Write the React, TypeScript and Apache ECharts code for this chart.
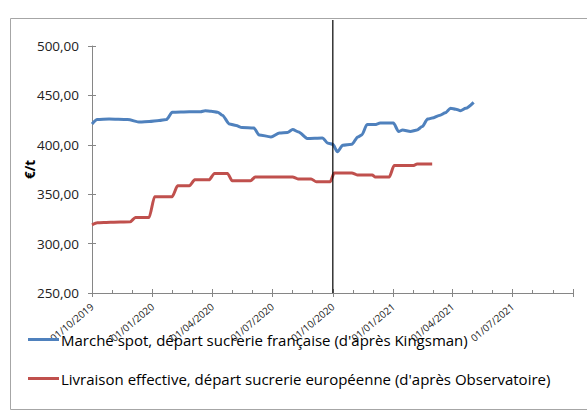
import React, { useEffect, useRef } from "react";
import * as echarts from "echarts";

const spotName = "Marché spot, départ sucrerie française (d'après Kingsman)";
const livName = "Livraison effective, départ sucrerie européenne (d'après Observatoire)";

const spotDates = [
  "2019-10-01", "2019-10-09", "2019-10-27", "2019-11-24", "2019-12-13", "2019-12-27",
  "2020-01-11", "2020-01-22", "2020-01-31", "2020-02-26", "2020-03-14", "2020-03-21",
  "2020-03-30", "2020-04-09", "2020-04-16", "2020-04-27", "2020-05-07", "2020-05-16",
  "2020-06-03", "2020-06-11", "2020-06-29", "2020-07-12", "2020-07-24", "2020-08-01",
  "2020-08-10", "2020-08-23", "2020-09-15", "2020-09-24", "2020-10-01", "2020-10-08",
  "2020-10-16", "2020-10-30", "2020-11-08", "2020-11-14", "2020-11-22", "2020-12-04",
  "2020-12-12", "2021-01-01", "2021-01-09", "2021-01-15", "2021-01-27", "2021-02-06",
  "2021-02-14", "2021-02-22", "2021-03-01", "2021-03-13", "2021-03-21", "2021-03-29",
  "2021-04-06", "2021-04-13", "2021-04-21", "2021-05-03",
];
const spotValues = [
  421, 425.5, 426, 425.5, 423, 423.5,
  424.5, 425.5, 433, 433.5, 433.5, 434.5,
  434, 433, 430, 421, 419.5, 417.5,
  417, 410, 408, 412, 412.5, 415.5,
  413, 406.5, 407, 401.5, 400.5, 393,
  399.5, 400.5, 408, 410, 420.5, 420.5,
  422, 422, 413.5, 415, 413.5, 415,
  418.5, 426, 427, 430, 432.5, 437,
  436, 434.5, 437, 443,
];

const livDates = [
  "2019-10-01", "2019-10-09", "2019-10-29", "2019-11-28", "2019-12-06", "2019-12-27",
  "2020-01-04", "2020-01-31", "2020-02-08", "2020-02-26", "2020-03-05", "2020-03-27",
  "2020-04-04", "2020-04-24", "2020-05-01", "2020-05-29", "2020-06-05", "2020-08-01",
  "2020-08-09", "2020-08-29", "2020-09-06", "2020-09-27", "2020-10-03", "2020-10-30",
  "2020-11-07", "2020-11-30", "2020-12-04", "2020-12-26", "2021-01-02", "2021-01-31",
  "2021-02-06", "2021-03-01",
];
const livValues = [
  319, 321, 321.5, 322, 326.5, 326.5,
  347.5, 347.5, 358.5, 358.5, 364.5, 364.5,
  371, 371, 363.5, 363.5, 367.5, 367.5,
  365.5, 365.5, 362.5, 362.5, 371.5, 371.5,
  369.5, 369.5, 367.5, 367.5, 379, 379,
  380.5, 380.5,
];

const xMin = "2019-10-01";
const xMax = "2021-10-01";
const markerDate = "2020-10-01";
const yMin = 250;
const yMax = 500;
const yStep = 50;
const yTitle = "€/t";

const FONT = "Open Sans";
const DAY = 86400000;

function ts(d: string) {
  return new Date(d + "T00:00:00").getTime();
}
function pad(n: number) {
  return n < 10 ? "0" + n : "" + n;
}
function fmtDate(v: number) {
  const d = new Date(v);
  return pad(d.getDate()) + "/" + pad(d.getMonth() + 1) + "/" + d.getFullYear();
}

export default function App() {
  const ref = useRef<HTMLDivElement>(null);
  useEffect(() => {
    document.body.style.margin = "0";
    if (!ref.current) return;
    const chart = echarts.init(ref.current, undefined, { renderer: "svg" });
    const axisColor = "#868686";
    const xCommon = {
      type: "time" as const,
      min: ts(xMin),
      max: ts(xMax),
      splitNumber: 8,
      minInterval: 89 * DAY,
      maxInterval: 93 * DAY,
      splitLine: { show: false },
    };
    const yCommon = {
      type: "value" as const,
      min: yMin,
      max: yMax,
      interval: yStep,
      splitLine: { show: false },
    };
    const legendCommon = {
      padding: 0,
      icon: "rect",
      itemWidth: 31,
      itemHeight: 3,
      itemGap: 0,
      textStyle: { fontFamily: FONT, fontSize: 15, color: "#000", padding: [0, 0, 0, -3] },
    };
    chart.setOption({
      animation: false,
      grid: { left: 92, right: 14, top: 46, bottom: 119, containLabel: false },
      xAxis: [
        {
          ...xCommon,
          axisLine: { show: true, lineStyle: { color: axisColor, width: 1 } },
          axisTick: { show: true, length: 4, lineStyle: { color: axisColor } },
          minorTick: { show: true, splitNumber: 3, length: -3, lineStyle: { color: axisColor } },
          axisLabel: {
            rotate: 40,
            margin: 12,
            fontFamily: FONT,
            fontSize: 10,
            color: "#222",
            formatter: (v: number) => (v >= ts(xMax) - DAY ? "" : fmtDate(v)),
          },
        },
        {
          ...xCommon,
          position: "bottom",
          axisLine: { show: false },
          axisTick: { show: true, inside: true, length: 4, lineStyle: { color: axisColor } },
          axisLabel: { show: false },
        },
      ],
      yAxis: [
        {
          ...yCommon,
          axisLine: { show: true, lineStyle: { color: axisColor, width: 1 } },
          axisTick: { show: true, length: 4, lineStyle: { color: axisColor } },
          axisLabel: {
            margin: 13,
            fontFamily: FONT,
            fontSize: 13.5,
            color: "#222",
            formatter: (v: number) => v.toFixed(2).replace(".", ","),
          },
        },
        {
          ...yCommon,
          position: "left",
          name: yTitle,
          nameLocation: "middle",
          nameGap: 55,
          nameTextStyle: { fontFamily: FONT, fontSize: 13.5, fontWeight: "bold", color: "#000" },
          axisLine: { show: false },
          axisTick: { show: true, inside: true, length: 4, lineStyle: { color: axisColor } },
          axisLabel: { show: false },
        },
      ],
      legend: [
        { ...legendCommon, data: [spotName], left: 28, top: 332 },
        { ...legendCommon, data: [livName], left: 28, top: 371 },
      ],
      series: [
        {
          name: spotName,
          type: "line",
          data: spotDates.map((d, i) => [ts(d), spotValues[i]]),
          showSymbol: false,
          smooth: 0.25,
          smoothMonotone: "x",
          lineStyle: { color: "#4F81BD", width: 3 },
          itemStyle: { color: "#4F81BD" },
        },
        {
          name: livName,
          type: "line",
          data: livDates.map((d, i) => [ts(d), livValues[i]]),
          showSymbol: false,
          smooth: 0.2,
          smoothMonotone: "x",
          lineStyle: { color: "#C0504D", width: 3 },
          itemStyle: { color: "#C0504D" },
        },
      ],
    });
    const mx = chart.convertToPixel({ xAxisIndex: 0 }, ts(markerDate)) as number;
    const yb = chart.convertToPixel({ yAxisIndex: 0 }, yMin) as number;
    chart.setOption({
      graphic: [
        {
          id: "frame",
          type: "rect",
          silent: true,
          shape: { x: 10.5, y: 18.5, width: 620, height: 391 },
          style: { fill: "none", stroke: "#a6a6a6", lineWidth: 1 },
        },
        {
          id: "marker",
          type: "line",
          silent: true,
          shape: { x1: mx, y1: 20, x2: mx, y2: yb },
          style: { stroke: "#000", lineWidth: 1.2 },
          z: 10,
        },
      ],
    });
    return () => chart.dispose();
  }, []);
  return <div ref={ref} style={{ width: 587, height: 412 }} />;
}
